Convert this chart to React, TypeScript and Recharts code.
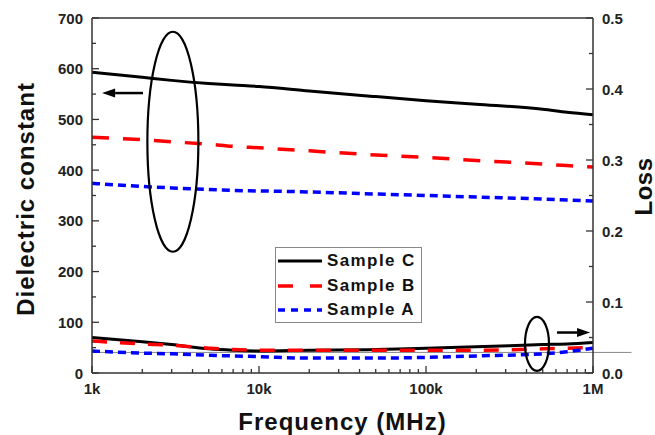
import { LineChart, Line, XAxis, YAxis, ReferenceLine, ReferenceDot, Legend } from 'recharts'

const frequencies = [1000, 2000, 3000, 5000, 7000, 10000, 20000, 50000, 100000, 200000, 500000, 700000, 1000000]
const dkSampleC = [593, 583, 577, 571, 568, 565, 556, 545, 537, 530, 520, 514, 509]
const dkSampleB = [465, 460, 456, 451, 447, 444, 438, 430, 425, 419, 412, 409, 406]
const dkSampleA = [374, 368, 365, 362, 360, 359, 357, 353, 350, 347, 343, 341, 339]
const lossSampleC = [0.05, 0.044, 0.04, 0.034, 0.032, 0.031, 0.032, 0.033, 0.035, 0.037, 0.04, 0.041, 0.043]
const lossSampleB = [0.045, 0.041, 0.039, 0.035, 0.033, 0.032, 0.032, 0.032, 0.032, 0.032, 0.034, 0.035, 0.036]
const lossSampleA = [0.031, 0.028, 0.027, 0.025, 0.024, 0.023, 0.021, 0.021, 0.022, 0.024, 0.027, 0.03, 0.035]

const freqTicks = [1000, 10000, 100000].flatMap(d => [1, 2, 3, 4, 5, 6, 7, 8, 9].map(m => m * d)).concat([1000000])
const freqLabels: Record<number, string> = { 1000: '1k', 10000: '10k', 100000: '100k', 1000000: '1M' }
const dkTicks = [0, 50, 100, 150, 200, 250, 300, 350, 400, 450, 500, 550, 600, 650, 700]
const lossTicks = [0, 0.05, 0.1, 0.15, 0.2, 0.25, 0.3, 0.35, 0.4, 0.45, 0.5]

const legendItems = [
  { name: 'Sample C', color: '#000000', dash: undefined, width: 3 },
  { name: 'Sample B', color: '#ff0000', dash: '15 17', width: 3.5 },
  { name: 'Sample A', color: '#0000ff', dash: '7 6', width: 3.5 },
]

const data = frequencies.map((freq, i) => ({
  freq,
  dkC: dkSampleC[i],
  dkB: dkSampleB[i],
  dkA: dkSampleA[i],
  lossC: lossSampleC[i],
  lossB: lossSampleB[i],
  lossA: lossSampleA[i],
}))

const FONT = "'Liberation Sans', Arial, sans-serif"
const AXIS = '#333'
const GAP = 9

function LeftTick(props: any) {
  const { x, y, payload } = props
  const v = payload.value
  const major = v % 100 === 0
  const ax = x + GAP
  return (
    <g>
      <line x1={ax} x2={ax + (major ? 7 : 4)} y1={y} y2={y} stroke={AXIS} strokeWidth={1.3} />
      {major && (
        <text x={x} y={y} textAnchor="end" dominantBaseline="central" fontFamily={FONT} fontWeight="bold" fontSize={15} fill="#222">
          {v}
        </text>
      )}
    </g>
  )
}

function RightTick(props: any) {
  const { x, y, payload } = props
  const v = payload.value
  const major = Math.round(v * 100) % 10 === 0
  const ax = x - GAP
  return (
    <g>
      <line x1={ax} x2={ax - (major ? 7 : 4)} y1={y} y2={y} stroke={AXIS} strokeWidth={1.3} />
      {major && (
        <text x={x} y={y} textAnchor="start" dominantBaseline="central" fontFamily={FONT} fontWeight="bold" fontSize={15} fill="#222">
          {v.toFixed(1)}
        </text>
      )}
    </g>
  )
}

function BottomTick(props: any) {
  const { x, y, payload } = props
  const label = freqLabels[payload.value]
  const ay = y - GAP
  return (
    <g>
      <line x1={x} x2={x} y1={ay} y2={ay - (label ? 7 : 4)} stroke={AXIS} strokeWidth={1.3} />
      {label && (
        <text x={x} y={ay + 15} textAnchor="middle" dominantBaseline="central" fontFamily={FONT} fontWeight="bold" fontSize={15} fill="#222">
          {label}
        </text>
      )}
    </g>
  )
}

function axisTitle(text: string, dx: number, dy: number, rotate: boolean, spacing = 1) {
  return (props: any) => {
    const vb = props.viewBox
    const cx = vb.x + dx
    const cy = vb.y + (rotate ? vb.height / 2 : 0) + dy
    return (
      <text
        x={cx}
        y={cy}
        textAnchor="middle"
        dominantBaseline="central"
        transform={rotate ? `rotate(-90, ${cx}, ${cy})` : undefined}
        fontFamily={FONT}
        fontWeight="bold"
        fontSize={24}
        letterSpacing={spacing}
        fill="#111"
      >
        {text}
      </text>
    )
  }
}

function Arrow(p: any) {
  const { x1, y1, x2, y2 } = p
  const ang = Math.atan2(y2 - y1, x2 - x1)
  const len = 13
  const half = 4.5
  const bx = x2 - len * Math.cos(ang)
  const by = y2 - len * Math.sin(ang)
  const px = -Math.sin(ang) * half
  const py = Math.cos(ang) * half
  return (
    <g>
      <line x1={x1} y1={y1} x2={bx} y2={by} stroke="#000" strokeWidth={2.5} />
      <polygon points={`${x2},${y2} ${bx + px},${by + py} ${bx - px},${by - py}`} fill="#000" />
    </g>
  )
}

function ellipse(rx: number, ry: number) {
  return (p: any) => <ellipse cx={p.cx} cy={p.cy} rx={rx} ry={ry} fill="none" stroke="#000" strokeWidth={2.2} />
}

function LegendBox() {
  return (
    <div
      style={{
        boxSizing: 'border-box',
        width: 147,
        height: 76,
        border: '1px solid #888',
        background: '#fff',
        padding: '1px 0 0 2px',
      }}
    >
      {legendItems.map(item => (
        <div key={item.name} style={{ display: 'flex', alignItems: 'center', height: 24.5 }}>
          <svg width={44} height={10} style={{ display: 'block' }}>
            <line x1={0} x2={44} y1={5} y2={5} stroke={item.color} strokeWidth={item.width} strokeDasharray={item.dash} />
          </svg>
          <span
            style={{
              marginLeft: 5,
              fontFamily: FONT,
              fontWeight: 'bold',
              fontSize: 17,
              letterSpacing: 1.4,
              color: '#111',
              whiteSpace: 'nowrap',
            }}
          >
            {item.name}
          </span>
        </div>
      ))}
    </div>
  )
}

export default function App() {
  return (
    <div style={{ position: 'absolute', left: 0, top: 0, background: '#fff' }}>
      <LineChart width={655} height={435} data={data} margin={{ top: 18, right: 0, bottom: 0, left: 0 }}>
        <XAxis
          dataKey="freq"
          type="number"
          scale="log"
          domain={[1000, 1000000]}
          ticks={freqTicks}
          interval={0}
          height={62}
          tickSize={0}
          tickMargin={GAP}
          tick={<BottomTick />}
          axisLine={{ stroke: AXIS, strokeWidth: 1.5 }}
          label={{ content: axisTitle('Frequency (MHz)', 250.5, 48, false) }}
        />
        <YAxis
          yAxisId="left"
          domain={[0, 700]}
          ticks={dkTicks}
          interval={0}
          width={92}
          tickSize={0}
          tickMargin={GAP}
          tick={<LeftTick />}
          axisLine={{ stroke: AXIS, strokeWidth: 1.5 }}
          label={{ content: axisTitle('Dielectric constant', 25, 3.5, true) }}
        />
        <YAxis
          yAxisId="right"
          orientation="right"
          domain={[0, 0.5]}
          ticks={lossTicks}
          interval={0}
          width={62}
          tickSize={0}
          tickMargin={GAP}
          tick={<RightTick />}
          axisLine={{ stroke: AXIS, strokeWidth: 1.5 }}
          label={{ content: axisTitle('Loss', 50, -9, true, 0.5) }}
        />
        <ReferenceLine yAxisId="left" y={700} stroke={AXIS} strokeWidth={1.5} />
        <ReferenceLine
          yAxisId="right"
          segment={[{ x: 1000, y: 0.029 }, { x: 1700000, y: 0.029 }]}
          ifOverflow="visible"
          stroke="#888"
          strokeWidth={1}
        />
        <Line yAxisId="left" type="monotone" dataKey="dkC" stroke="#000000" strokeWidth={3} dot={false} activeDot={false} isAnimationActive={false} />
        <Line yAxisId="left" type="monotone" dataKey="dkB" stroke="#ff0000" strokeWidth={3.5} strokeDasharray="17 14" dot={false} activeDot={false} isAnimationActive={false} />
        <Line yAxisId="left" type="monotone" dataKey="dkA" stroke="#0000ff" strokeWidth={3.5} strokeDasharray="8 5" dot={false} activeDot={false} isAnimationActive={false} />
        <Line yAxisId="right" type="monotone" dataKey="lossC" stroke="#000000" strokeWidth={3} dot={false} activeDot={false} isAnimationActive={false} />
        <Line yAxisId="right" type="monotone" dataKey="lossB" stroke="#ff0000" strokeWidth={3.5} strokeDasharray="15 13" dot={false} activeDot={false} isAnimationActive={false} />
        <Line yAxisId="right" type="monotone" dataKey="lossA" stroke="#0000ff" strokeWidth={3.5} strokeDasharray="8 5" dot={false} activeDot={false} isAnimationActive={false} />
        <ReferenceDot yAxisId="left" x={3050} y={456} r={1} ifOverflow="visible" shape={ellipse(25.5, 110)} />
        <ReferenceDot yAxisId="right" x={462000} y={0.041} r={1} ifOverflow="visible" shape={ellipse(12, 27)} />
        <ReferenceLine yAxisId="left" segment={[{ x: 2020, y: 552 }, { x: 1150, y: 552 }]} ifOverflow="visible" shape={Arrow} />
        <ReferenceLine yAxisId="right" segment={[{ x: 609000, y: 0.057 }, { x: 960000, y: 0.057 }]} ifOverflow="visible" shape={Arrow} />
        <Legend
          layout="vertical"
          align="center"
          verticalAlign="middle"
          wrapperStyle={{ left: 275, top: 247, width: 147 }}
          content={<LegendBox />}
        />
      </LineChart>
    </div>
  )
}
